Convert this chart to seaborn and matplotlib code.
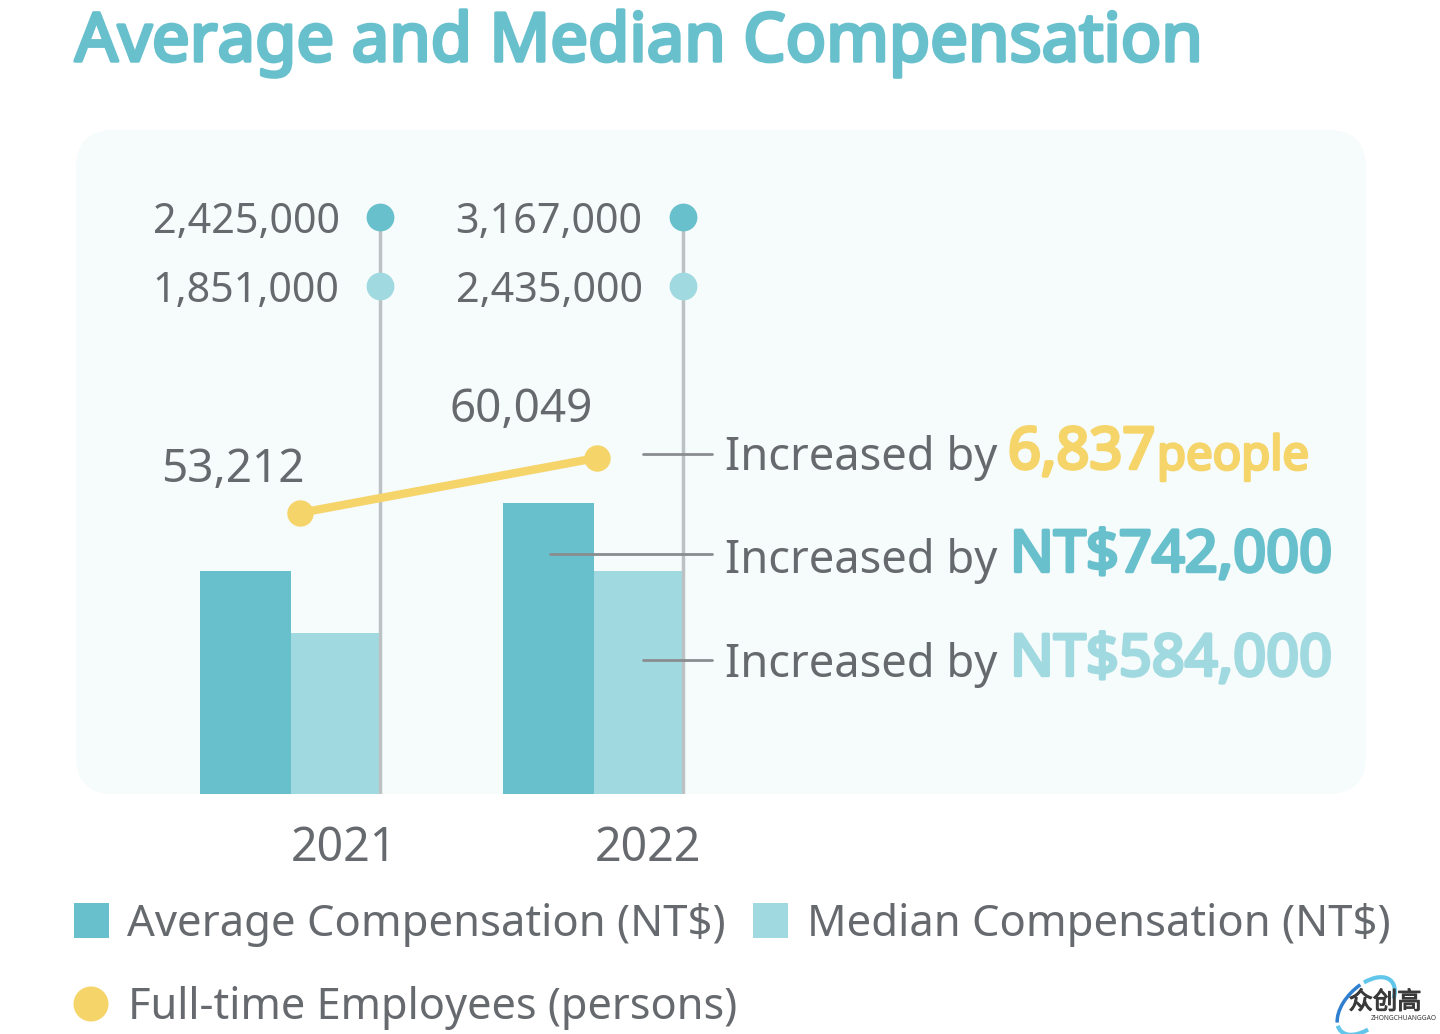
import pandas as pd
import matplotlib.pyplot as plt
import matplotlib.patheffects as pe
from matplotlib.patches import FancyBboxPatch, Ellipse, Rectangle, Arc
from matplotlib.transforms import blended_transform_factory
import seaborn as sns

years = ['2021', '2022']
average_comp = [2425000, 3167000]
median_comp = [1851000, 2435000]
median_bar_heights = [1750000, 2425000]  # as drawn in the picture
employees = [53212, 60049]
employee_x = [0.03, 1.01]
notes = ['6,837', 'NT$742,000', 'NT$584,000']

TEAL = '#69c0cd'
LIGHT = '#a0dae0'
YELLOW = '#f5d469'
GREY = '#666a6e'
W, H = 1440, 1034


def bold(stroke, color):
    # the installed Noto Sans only gives the regular weight here
    return [pe.withStroke(linewidth=stroke, foreground=color)]


sns.set_theme(style='white')
plt.rcParams['font.family'] = ['Noto Sans', 'Noto Sans CJK SC', 'DejaVu Sans']

fig = plt.figure(figsize=(14.4, 10.34), dpi=100)
fig.patch.set_facecolor('white')

# panel behind the chart
bg = fig.add_axes([0, 0, 1, 1], zorder=0)
bg.set_xlim(0, W)
bg.set_ylim(H, 0)
bg.axis('off')
bg.add_patch(FancyBboxPatch((76, 130), 1290, 664, boxstyle='round,pad=0,rounding_size=38',
                            facecolor='#f6fbfb', edgecolor='none', linewidth=0))

ax = fig.add_axes([76 / W, 1 - 794 / H, 1290 / W, 664 / H], zorder=1)
ax.patch.set_alpha(0)
df = pd.DataFrame({
    'year': years * 2,
    'value': average_comp + median_bar_heights,
    'kind': ['Average'] * 2 + ['Median'] * 2,
})
sns.barplot(data=df, x='year', y='value', hue='kind', palette=[TEAL, LIGHT], width=0.6,
            saturation=1, legend=False, linewidth=0, ax=ax)
ax.set_xlim((76 - 290.5) / 303, (1366 - 290.5) / 303)
ax.set_ylim(0, 664 * 10870)
ax.set_xlabel('')
ax.set_ylabel('')
ax.set_yticks([])
ax.set_xticks([0.175, 1.18])
ax.set_xticklabels(years, fontsize=33.5, color=GREY)
ax.tick_params(axis='x', length=0, pad=22)
sns.despine(ax=ax, left=True, bottom=True)

# stems with value dots
trans = blended_transform_factory(ax.transData, ax.transAxes)
for i in range(len(years)):
    sx = i + 0.294
    ax.plot([sx, sx], [0, (794 - 217) / 664], transform=trans, color='#bcc1c3', lw=2.5, zorder=3)
    ax.plot(sx, (794 - 217) / 664, 'o', transform=trans, color=TEAL, ms=19, zorder=4, clip_on=False)
    ax.plot(sx, (794 - 286) / 664, 'o', transform=trans, color=LIGHT, ms=19, zorder=4, clip_on=False)
    ax.text(sx - 40 / 303, (794 - 222) / 664, f'{average_comp[i]:,}', transform=trans, ha='right',
            va='center', fontsize=29.7, color=GREY)
    ax.text(sx - 40 / 303, (794 - 291) / 664, f'{median_comp[i]:,}', transform=trans, ha='right',
            va='center', fontsize=29.7, color=GREY)

# employees on their own scale
ax2 = ax.twinx()
ax2.set_zorder(2)
sns.lineplot(x=employee_x, y=employees, color=YELLOW, lw=6, marker='o', ms=19, markeredgewidth=0,
             ax=ax2, zorder=5)
ax2.set_ylim(18279, 100820)
ax2.set_yticks([])
ax2.set_ylabel('')
sns.despine(ax=ax2, left=True, bottom=True, right=True)
for x, e, dx, dy in zip(employee_x, employees, [-0.22, -0.25], [5300, 6000]):
    ax2.text(x + dx, e + dy, f'{e:,}', ha='center', va='center', fontsize=33, color=GREY)

# overlay texts, in picture pixels
top = fig.add_axes([0, 0, 1, 1], zorder=3)
top.set_xlim(0, W)
top.set_ylim(H, 0)
top.axis('off')
top.text(75, 43, 'Average and Median Compensation', fontsize=48.3, color=TEAL, va='center', ha='left',
         path_effects=bold(2.5, TEAL))
rows = zip([454, 554, 660], [643, 550, 643], [458, 561, 665], [453, 556, 660],
           notes, [YELLOW, TEAL, LIGHT], [1008, 1010, 1010])
for y, x0, ty, ny, note, color, tx in rows:
    top.plot([x0, 712], [y, y], color='#8a8d90', lw=2)
    top.text(725, ty, 'Increased by', fontsize=32.6, color=GREY, va='center')
    top.text(tx, ny, note, fontsize=41.5, color=color, va='center', path_effects=bold(2.5, color))
top.text(1157, 457, 'people', fontsize=34, color=YELLOW, va='center', path_effects=bold(2, YELLOW))

# legend
top.add_patch(Rectangle((74, 903), 35, 35, color=TEAL, lw=0))
top.add_patch(Rectangle((753, 903), 35, 35, color=LIGHT, lw=0))
top.add_patch(Ellipse((91, 1004), 35, 35, color=YELLOW, lw=0))
top.text(127, 925, 'Average Compensation (NT$)', fontsize=31.4, color=GREY, va='center')
top.text(807, 925, 'Median Compensation (NT$)', fontsize=31.4, color=GREY, va='center')
top.text(128, 1008, 'Full-time Employees (persons)', fontsize=31.2, color=GREY, va='center')

# watermark
top.add_patch(Arc((1366, 1006), 71, 40, angle=-45, theta1=195, theta2=300, color='#2f7fd0', lw=2.5))
top.add_patch(Arc((1366, 1006), 71, 40, angle=-45, theta1=310, theta2=30, color='#62c6ea', lw=3))
top.add_patch(Arc((1366, 1006), 71, 40, angle=-45, theta1=130, theta2=190, color='#62c6ea', lw=3))
top.text(1385, 1003, '众创高', fontsize=17.5, color='#3a3a3a', ha='center', va='center',
         path_effects=bold(0.8, '#3a3a3a'))
top.text(1404, 1018, 'ZHONGCHUANGGAO', fontsize=4.8, color='#3a3a3a', ha='center', va='center')

fig.savefig('out.png', dpi=100)
